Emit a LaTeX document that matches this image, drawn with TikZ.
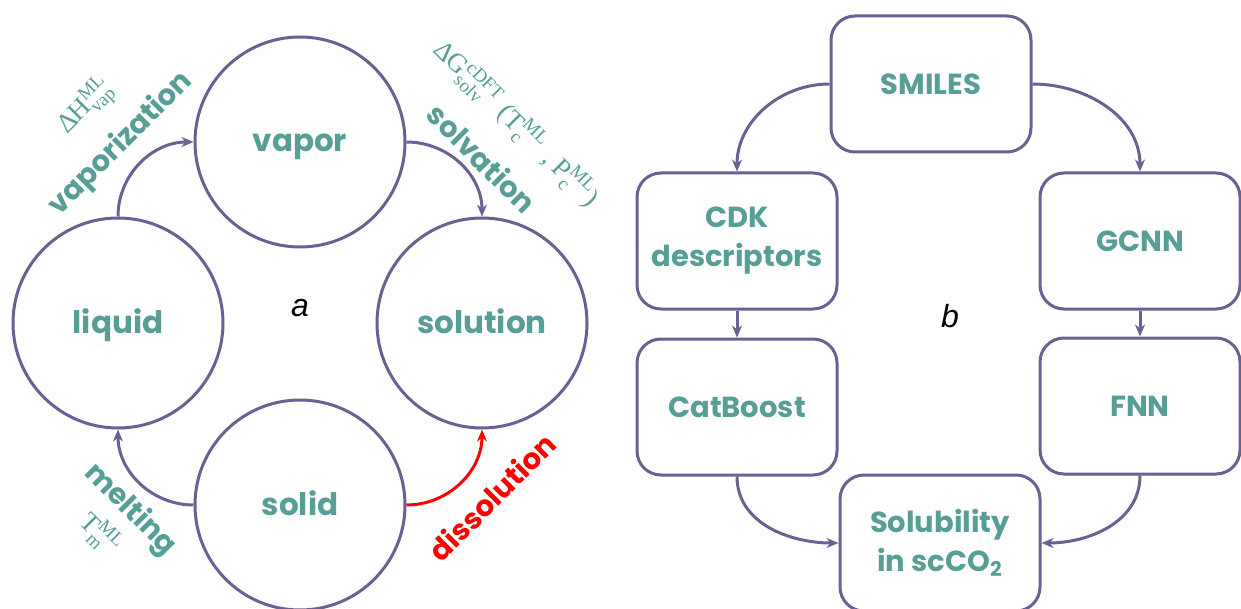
\documentclass[tikz,border=0pt]{standalone}
\usepackage{amsmath}
\usepackage{fontspec}
\setmainfont{Poppins}[UprightFont=* SemiBold, BoldFont=* Bold]
\newfontfamily\serifrm{Liberation Serif}
\newfontfamily\arialit{Liberation Sans}[UprightFont=* Italic]
\usetikzlibrary{arrows.meta}
\definecolor{ring}{HTML}{6B5F94}
\definecolor{tealtxt}{HTML}{569E96}
\definecolor{hotred}{HTML}{FF0000}
\tikzset{
  phase/.style={circle, draw=ring, line width=1.5pt, minimum size=105pt, inner sep=0pt,
    text=tealtxt, font=\bfseries\fontsize{15.5}{18}\selectfont,
    text height=1.0em, text depth=0pt},
  stage/.style={rectangle, rounded corners=12pt, draw=ring, line width=1.5pt,
    minimum width=100pt, minimum height=68pt, inner sep=0pt, align=center,
    text=tealtxt, font=\bfseries\fontsize{14.5}{19.5}\selectfont},
  flow/.style={draw=ring, line width=1.5pt, -{Stealth[length=6pt,width=5pt]}},
  hotflow/.style={draw=hotred, line width=1.5pt, -{Stealth[length=6pt,width=5pt]}},
  verb/.style={text=tealtxt, font=\bfseries\fontsize{14.5}{16}\selectfont, inner sep=0pt},
  qty/.style={text=tealtxt, font=\serifrm\fontsize{13.5}{15}\selectfont, inner sep=0pt},
  tag/.style={font=\arialit\fontsize{16}{18}\selectfont, inner sep=0pt}
}
\begin{document}
\begin{tikzpicture}[x=0.5pt, y=-0.5pt]
\useasboundingbox (0,0) rectangle (1241,609);

% phase cycle
\node[phase] (vapor) at (300,142) {vapor};
\node[phase] (liquid) at (118,323) {liquid};
\node[phase] (solution) at (482,323) {solution};
\node[phase] (solid) at (300,505) {solid};
\node[tag] (ta) at (300,308) {a};

\draw[flow] (liquid.north) to[out=90, in=180] (vapor.west);
\draw[flow] (vapor.east) to[out=0, in=90] (solution.north);
\draw[flow] (solid.west) to[out=180, in=-90] (liquid.south);
\draw[hotflow] (solid.east) to[out=0, in=-90] (solution.south);

\node[verb, rotate=45] (vap) at (121,144) {vaporization};
\node[qty, rotate=45] (dh) at (86,107) {Δ\kern-0.5pt H$^{\text{ML}}_{\text{vap}}$};
\node[verb, rotate=-45] (solv) at (482,158) {solvation};
\node[qty, rotate=-45] (dg) at (516,124) {Δ\kern-0.5pt G$^{\text{cDFT}}_{\text{solv}}$\,\,(T$^{\text{ML}}_{\text{c}}$\,\,, P$^{\text{ML}}_{\text{c}}$)};
\node[verb, rotate=-45] (melt) at (130,510) {melting};
\node[qty, rotate=-45] (tm) at (100,534) {T$^{\text{ML}}_{\text{m}}$};
\node[verb, rotate=45, text=hotred] (diss) at (492,497) {dissolution};

% prediction pipeline
\node[stage] (smiles) at (931,84) {SMILES};
\node[stage] (cdk) at (737,241) {CDK\\descriptors};
\node[stage] (gcnn) at (1140,241) {GCNN};
\node[stage] (cat) at (737,407) {CatBoost};
\node[stage] (fnn) at (1140,406) {FNN};
\node[stage] (sol) at (940,543) {Solubility\\in scCO\textsubscript{2}};
\node[tag] (tb) at (950,316) {b};

\draw[flow] (smiles.west) to[out=180, in=90] (cdk.north);
\draw[flow] (smiles.east) to[out=0, in=90] (gcnn.north);
\draw[flow] (cdk.south) -- (cat.north);
\draw[flow] (gcnn.south) -- (fnn.north);
\draw[flow] (cat.south) to[out=-90, in=180] (sol.west);
\draw[flow] (fnn.south) to[out=-90, in=0] (sol.east);
\end{tikzpicture}
\end{document}
